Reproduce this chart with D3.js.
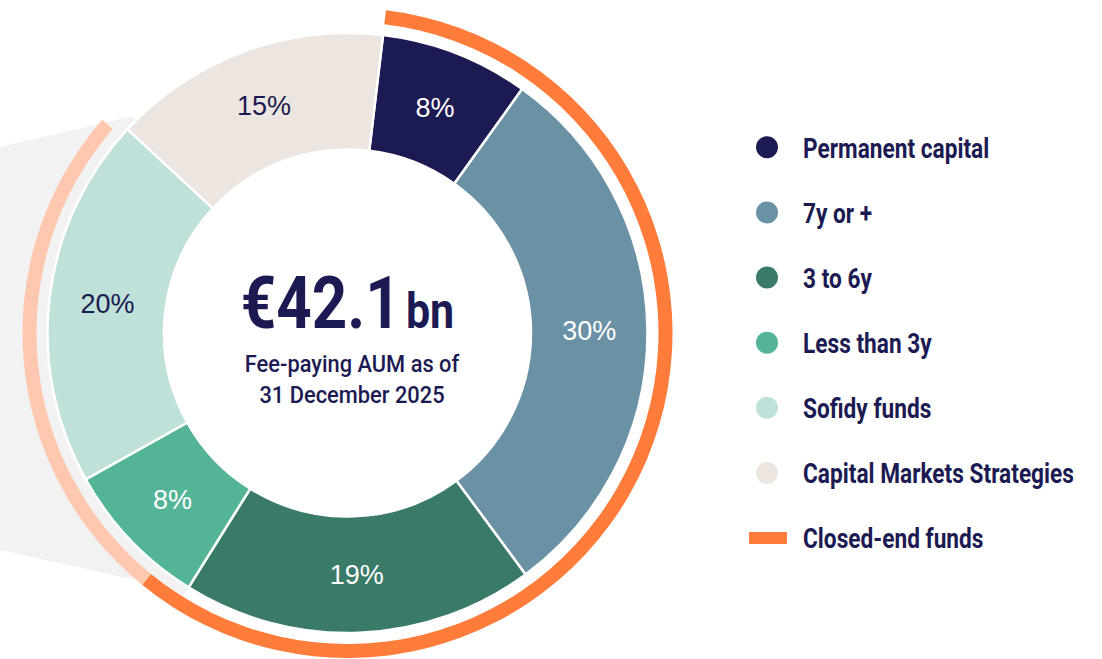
<!DOCTYPE html>
<html>
<head>
<meta charset="utf-8">
<script src="https://cdn.jsdelivr.net/npm/d3@7/dist/d3.min.js"></script>
<style>
  html, body { margin: 0; padding: 0; background: #ffffff; }
  svg { display: block; }
  .cond { font-family: Roboto, "Liberation Sans", sans-serif; }
</style>
</head>
<body>
<svg id="chart" width="1102" height="659"></svg>
<script>
// Fee-paying AUM split by segment (% of total)
const segments = ["Permanent capital", "7y or +", "3 to 6y", "Less than 3y", "Sofidy funds", "Capital Markets Strategies"];
const shares = [8, 30, 19, 8, 20, 15];
const segmentColors = ["#1c1a52", "#6b91a5", "#3a7a69", "#54b498", "#bfe1d9", "#ede5df"];
const labelColors = ["#ffffff", "#ffffff", "#ffffff", "#ffffff", "#1c1a52", "#1c1a52"];

// Outer band: fund structure (% of total)
const bandNames = ["Closed-end funds", "Open-ended funds"];
const bandShares = [59, 25.5];
const bandColors = ["#ff7c3b", "#fec7af"];

// Legend entries
const legendNames = segments.concat(["Closed-end funds"]);

const headline = { value: "€42.1", unit: "bn" };
const subtitleLines = ["Fee-paying AUM as of", "31 December 2025"];

const navy = "#1c1a52";
const svg = d3.select("#chart");
const cx = 347.5, cy = 333;
const rInner = 183.5, rOuter = 300;
const bandInner = 311, bandOuter = 325;
const startAngle = 6.8 * Math.PI / 180;
const deg = Math.PI / 180;

const pie = d3.pie().sort(null).value(d => d)
  .startAngle(startAngle).endAngle(startAngle + 2 * Math.PI);
const slices = pie(shares);

const polar = (a, r) => [cx + r * Math.sin(a), cy - r * Math.cos(a)];

// Condensed text: a regular face squeezed horizontally
function condText(sel, x, y, squeeze) {
  return sel.append("g")
    .attr("transform", `translate(${x},${y}) scale(${squeeze},1)`)
    .append("text").attr("class", "cond");
}

// Grey call-out shape behind the open-ended slices
const g = svg.append("g");
const openStart = slices[3].startAngle, openEnd = slices[4].endAngle;
const calloutTop = polar(openEnd + 2.3 * deg, 306);
const calloutBottom = polar(openStart - 0.2 * deg, 304);
g.append("path")
  .attr("d", d3.line()([[0, 147], calloutTop, [cx, cy], calloutBottom, [0, 550]]) + "Z")
  .attr("fill", "#f2f2f2");
g.append("path")
  .attr("transform", `translate(${cx},${cy})`)
  .attr("d", d3.arc().innerRadius(0).outerRadius(bandInner)({ startAngle: openStart, endAngle: openEnd }))
  .attr("fill", "#f2f2f2");
g.append("circle").attr("cx", cx).attr("cy", cy).attr("r", rInner).attr("fill", "#ffffff");

// Donut
const arc = d3.arc().innerRadius(rInner).outerRadius(rOuter);
const donut = svg.append("g").attr("transform", `translate(${cx},${cy})`);
donut.selectAll("path.slice").data(slices).join("path")
  .attr("class", "slice")
  .attr("d", arc)
  .attr("fill", (d, i) => segmentColors[i])
  .attr("stroke", "#ffffff")
  .attr("stroke-width", 2.5);

donut.selectAll("text.pct").data(slices).join("text")
  .attr("class", "pct")
  .attr("transform", d => `translate(${arc.centroid(d)})`)
  .attr("text-anchor", "middle")
  .attr("dominant-baseline", "central")
  .attr("font-family", "'Liberation Sans', Arial, sans-serif")
  .attr("font-size", 27)
  .attr("fill", (d, i) => labelColors[i])
  .text(d => d.data + "%");

// Outer band
const bandPie = d3.pie().sort(null).value(d => d)
  .startAngle(startAngle).endAngle(startAngle + 2 * Math.PI * d3.sum(bandShares) / 100);
const bandArc = d3.arc().innerRadius(bandInner).outerRadius(bandOuter);
donut.selectAll("path.band").data(bandPie(bandShares)).join("path")
  .attr("class", "band")
  .attr("d", bandArc)
  .attr("fill", (d, i) => bandColors[i]);

// Centre text
const head = condText(svg, cx, 328, 0.86)
  .attr("text-anchor", "middle").attr("fill", navy);
head.append("tspan").attr("font-size", 72).attr("font-weight", 700).text(headline.value);
head.append("tspan").attr("font-size", 50).attr("font-weight", 700).attr("dx", 6).text(headline.unit);

subtitleLines.forEach((line, i) => {
  condText(svg, 352, 372 + i * 31, 0.95)
    .attr("text-anchor", "middle")
    .attr("font-size", 23)
    .attr("font-weight", 500)
    .attr("fill", navy)
    .text(line);
});

// Legend
const legendY = d3.scaleLinear().domain([0, legendNames.length - 1]).range([147.3, 538]);
const legend = svg.append("g");
const rows = legend.selectAll("g.row").data(legendNames).join("g")
  .attr("class", "row")
  .attr("transform", (d, i) => `translate(0,${legendY(i)})`);
rows.filter((d, i) => i < segments.length).append("circle")
  .attr("cx", 767).attr("r", 11)
  .attr("fill", (d, i) => segmentColors[i]);
rows.filter((d, i) => i === segments.length).append("rect")
  .attr("x", 749).attr("y", -6).attr("width", 38).attr("height", 12)
  .attr("fill", bandColors[0]);
rows.each(function (d) {
  condText(d3.select(this), 803, 1, 0.84)
    .attr("dominant-baseline", "central")
    .attr("font-size", 27)
    .attr("font-weight", 700)
    .attr("fill", navy)
    .text(d);
});
</script>
</body>
</html>
